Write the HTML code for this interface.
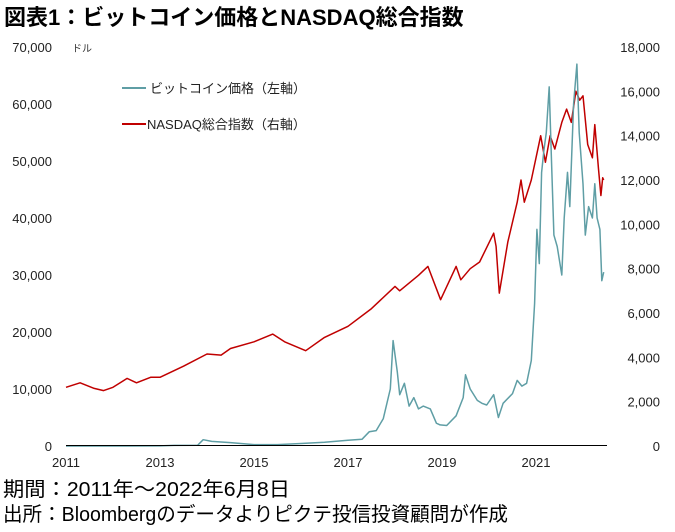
<!DOCTYPE html>
<html><head><meta charset="utf-8"><style>
body{margin:0;background:#fff;width:675px;height:532px;overflow:hidden;font-family:"Liberation Sans","Noto Sans CJK JP",sans-serif}
svg{position:absolute;left:0;top:0}
</style></head><body>
<svg width="675" height="532">
<text x="4" y="25" font-size="22" font-weight="bold" font-family="Liberation Sans, Noto Sans CJK JP, sans-serif">図表1：ビットコイン価格とNASDAQ総合指数</text>
<text x="72" y="52" font-size="10" fill="#333" font-family="Liberation Sans, Noto Sans CJK JP, sans-serif">ドル</text>
<g id="g"></g>
<line x1="66" y1="445.5" x2="607" y2="445.5" stroke="#000" stroke-width="1"/>
<line x1="122" y1="88" x2="146" y2="88" stroke="#5f9ea5" stroke-width="2"/>
<text x="150" y="93" font-size="13" fill="#222" font-family="Liberation Sans, Noto Sans CJK JP, sans-serif">ビットコイン価格（左軸）</text>
<line x1="122" y1="124" x2="146" y2="124" stroke="#c00000" stroke-width="2"/>
<text x="147" y="129" font-size="13" fill="#222" font-family="Liberation Sans, Noto Sans CJK JP, sans-serif">NASDAQ総合指数（右軸）</text>
<text x="3" y="496" font-size="20" textLength="287" lengthAdjust="spacingAndGlyphs" font-family="Liberation Sans, Noto Sans CJK JP, sans-serif">期間：2011年～2022年6月8日</text>
<text x="3" y="521" font-size="20" textLength="505" lengthAdjust="spacingAndGlyphs" font-family="Liberation Sans, Noto Sans CJK JP, sans-serif">出所：Bloombergのデータよりピクテ投信投資顧問が作成</text>
</svg>
<script>
const leftTicks=[0,10000,20000,30000,40000,50000,60000,70000];
const rightTicks=[0,2000,4000,6000,8000,10000,12000,14000,16000,18000];
const yearTicks=[2011,2013,2015,2017,2019,2021];
const btcDates=[2011,2012,2013,2013.3,2013.8,2013.92,2014.1,2014.5,2015,2015.5,2016,2016.5,2017,2017.3,2017.45,2017.6,2017.75,2017.9,2017.96,2018.05,2018.1,2018.2,2018.3,2018.4,2018.5,2018.6,2018.75,2018.88,2018.96,2019.1,2019.3,2019.45,2019.5,2019.6,2019.75,2019.85,2019.95,2020.1,2020.2,2020.3,2020.5,2020.6,2020.7,2020.8,2020.9,2020.97,2021.02,2021.07,2021.12,2021.17,2021.22,2021.28,2021.33,2021.38,2021.45,2021.55,2021.6,2021.67,2021.72,2021.8,2021.87,2021.92,2022.0,2022.05,2022.12,2022.2,2022.25,2022.3,2022.36,2022.4,2022.44];
const btcValues=[0.3,5,13,100,130,1100,800,600,250,250,430,650,1000,1200,2500,2700,4800,10000,18500,13000,9000,11000,7000,8500,6500,7000,6500,4000,3700,3600,5300,8500,12500,10000,8000,7500,7200,9000,5000,7500,9200,11500,10500,11000,15000,25000,38000,32000,48000,52000,55000,63000,50000,37000,35000,30000,40000,48000,42000,60000,67000,55000,46000,37000,42000,40000,46000,40000,38000,29000,30500];
const ndqDates=[2011,2011.3,2011.6,2011.8,2012,2012.3,2012.5,2012.8,2013,2013.5,2014,2014.3,2014.5,2015,2015.4,2015.65,2016.1,2016.5,2017,2017.5,2018,2018.1,2018.5,2018.7,2018.97,2019.3,2019.4,2019.6,2019.8,2020.1,2020.15,2020.22,2020.4,2020.6,2020.68,2020.75,2020.9,2021.1,2021.2,2021.3,2021.4,2021.55,2021.65,2021.75,2021.85,2021.93,2022.0,2022.1,2022.2,2022.25,2022.33,2022.38,2022.42,2022.44];
const ndqValues=[2650,2850,2600,2500,2650,3050,2850,3100,3100,3600,4150,4100,4400,4700,5050,4700,4300,4900,5400,6200,7200,7000,7700,8100,6600,8100,7500,8000,8300,9600,9000,6900,9200,11000,12000,11000,12000,14000,12800,14000,13400,14600,15200,14600,16000,15600,15800,13600,13000,14500,12500,11300,12100,12000];
const X=d=>66+(d-2011)*47, YL=v=>446-v*399/70000, YR=v=>446-v*399/18000;
const g=document.getElementById('g'),NS='http://www.w3.org/2000/svg';
function mk(t,a,txt){const e=document.createElementNS(NS,t);for(const k in a)e.setAttribute(k,a[k]);if(txt!=null)e.textContent=txt;g.appendChild(e);return e;}
const F='Liberation Sans, sans-serif';
leftTicks.forEach(v=>{const e=mk('text',{x:52,y:YL(v)+5,'font-size':13,'text-anchor':'end','font-family':F,fill:'#222'},v.toLocaleString('en-US'));

});
rightTicks.forEach(v=>{const e=mk('text',{x:660,y:YR(v)+5,'font-size':13,'text-anchor':'end','font-family':F,fill:'#222'},v.toLocaleString('en-US'));

});
yearTicks.forEach(v=>{const e=mk('text',{x:X(v),y:467,'font-size':13,'text-anchor':'middle','font-family':F,fill:'#222'},String(v));

});
function line(ds,vs,Y,c,n){const p=mk('polyline',{points:ds.map((d,i)=>X(d).toFixed(1)+','+Y(vs[i]).toFixed(1)).join(' '),fill:'none',stroke:c,'stroke-width':1.5,'stroke-linejoin':'round'});

}
line(ndqDates,ndqValues,YR,'#c00000','nasdaq-line');
line(btcDates,btcValues,YL,'#5f9ea5','bitcoin-line');
</script>
</body></html>
